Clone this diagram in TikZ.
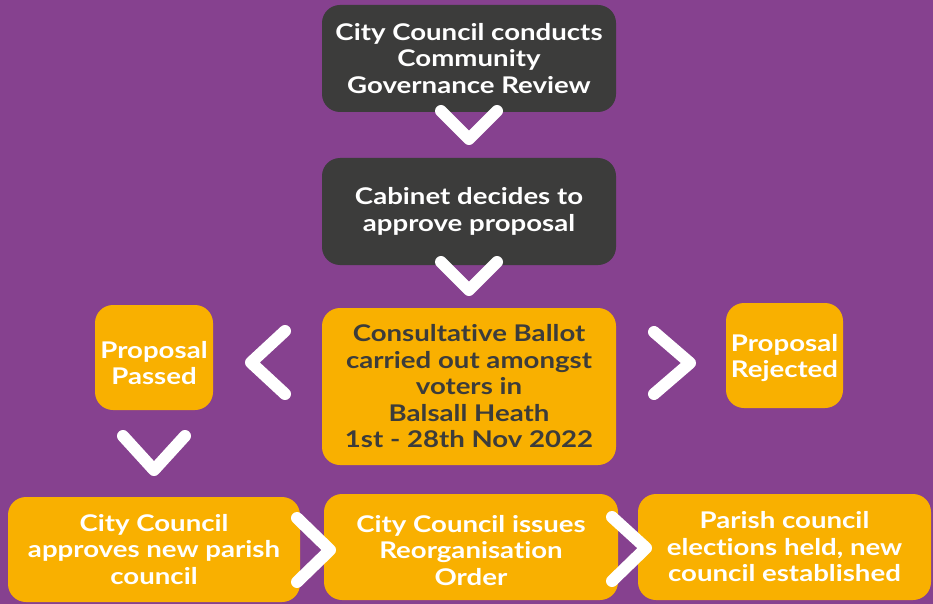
\documentclass[tikz,border=0pt]{standalone}
\usepackage{fontspec}
\setmainfont{Lato}[FakeStretch=1.2, Ligatures={NoCommon}]
\definecolor{bgpurple}{HTML}{86418F}
\definecolor{boxorange}{HTML}{F9B000}
\definecolor{boxdark}{HTML}{3C3C3B}
\begin{document}
\begin{tikzpicture}[x=1pt,y=-1pt,
  box/.style={rounded corners=18pt, inner sep=0pt, align=center,
    font=\fontsize{23}{26.5}\selectfont\bfseries},
  darkbox/.style={box, fill=boxdark, text=white},
  orangebox/.style={box, fill=boxorange, text=white},
  ballotbox/.style={box, fill=boxorange, text=boxdark},
  label/.style={inner sep=0pt, align=center, text=white,
    font=\fontsize{23}{26}\selectfont\bfseries},
  chev/.style={draw=white, line width=12pt, line cap=round, line join=round}]
\fill[bgpurple] (0,0) rectangle (933,604);
\useasboundingbox (0,0) rectangle (933,604);

\node[darkbox, minimum width=294pt, minimum height=107pt] (review) at (469,58.5)
  {City Council conducts\\Community\\Governance Review};
\node[darkbox, minimum width=294pt, minimum height=107pt] (cabinet) at (469,211.5)
  {Cabinet decides to\\approve proposal};
\node[ballotbox, minimum width=294pt, minimum height=157pt] (ballot) at (469,386.5)
  {Consultative Ballot\\carried out amongst\\voters in\\Balsall Heath\\1st - 28th Nov 2022};
\node[orangebox, minimum width=118pt, minimum height=105pt] (passed) at (154,357.5) {};
\node[label] (passedtext) at (154,363) {Proposal\\Passed};
\node[orangebox, minimum width=117pt, minimum height=105pt] (rejected) at (784.5,355.5) {};
\node[label] (rejectedtext) at (784.5,358) {Proposal\\Rejected};
\node[orangebox, minimum width=292pt, minimum height=105pt] (approve) at (154,549.5)
  {City Council\\approves new parish\\council};
\node[orangebox, minimum width=294pt, minimum height=106pt] (order) at (471,547) {};
\node[label, font=\fontsize{23}{26.5}\selectfont\bfseries] (ordertext) at (471,550.5)
  {City Council issues\\Reorganisation\\Order};
\node[orangebox, minimum width=293pt, minimum height=106pt] (elect) at (784.5,547)
  {Parish council\\elections held, new\\council established};

% chevrons
\draw[chev] (441,111) -- (469,139) -- (497,111);
\draw[chev] (441,262) -- (469,290) -- (497,262);
\draw[chev] (285,331) -- (251,362.5) -- (285,394);
\draw[chev] (654,332) -- (690,363) -- (654,394);
\draw[chev] (123,436) -- (154,470) -- (185,436);
\draw[chev] (297,518) -- (330,550) -- (297,582);
\draw[chev] (612,517) -- (646,548) -- (612,581);
\end{tikzpicture}
\end{document}
